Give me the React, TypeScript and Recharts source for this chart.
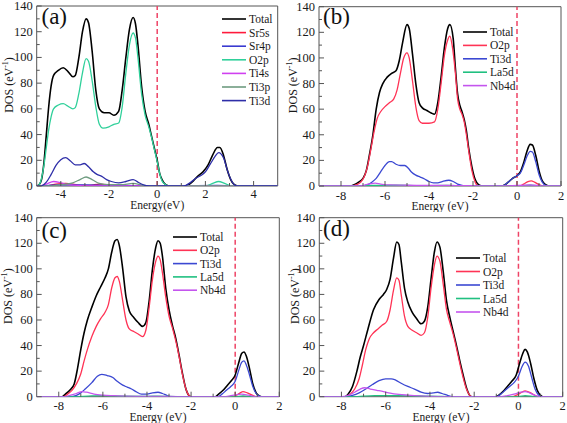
import React from "react";
import {
  LineChart,
  Line,
  XAxis,
  YAxis,
  ReferenceLine,
  ReferenceArea,
  Legend,
} from "recharts";

const FONT = '"Liberation Serif", "DejaVu Serif", "Times New Roman", serif';
const AXIS = "#555";
const TEXT = "#1a1a1a";
const FERMI = "#ee4466";

type Pt = [number, number];

const dosTicks = [0, 10, 20, 30, 40, 50, 60, 70, 80, 90, 100, 110, 120, 130, 140];
const dosLabels = [0, 20, 40, 60, 80, 100, 120, 140];

// (a) undoped
const energyTicksA = [-4, -3, -2, -1, 0, 1, 2, 3, 4];
const energyLabelsA = [-4, -2, 0, 2, 4];

const totalA: Pt[] = [
  [-5, 0], [-4.9, 1], [-4.8, 5], [-4.7, 18], [-4.6, 40], [-4.5, 62], [-4.4, 78], [-4.3, 86],
  [-4.1, 90], [-3.9, 92], [-3.7, 89], [-3.5, 85], [-3.4, 86], [-3.25, 100], [-3.1, 120],
  [-2.95, 130], [-2.85, 127], [-2.7, 105], [-2.55, 75], [-2.4, 60], [-2.2, 57], [-2.0, 57],
  [-1.8, 55], [-1.6, 58], [-1.45, 75], [-1.3, 100], [-1.15, 122], [-1.0, 131], [-0.9, 126],
  [-0.8, 110], [-0.65, 78], [-0.5, 58], [-0.35, 48], [-0.25, 40], [-0.1, 28], [0, 20],
  [0.1, 10], [0.2, 5], [0.35, 1], [0.5, 0], [1.1, 0], [1.3, 1], [1.5, 4], [1.7, 8], [1.9, 11],
  [2.1, 16], [2.3, 24], [2.5, 30], [2.6, 30], [2.75, 24], [2.9, 13], [3.05, 5], [3.2, 1],
  [3.35, 0], [5, 0],
];
const sr5sA: Pt[] = [
  [-5, 0], [-4.6, 0], [-4.2, 1.5], [-3.8, 2], [-3.5, 1.5], [-3.2, 0.5], [-2.8, 0.5],
  [-2.4, 1.5], [-2.1, 1], [-1.8, 0], [5, 0],
];
const sr4pA: Pt[] = [
  [-5, 0], [-4.5, 0.5], [-4, 0.8], [-3, 0.8], [-2, 0.5], [-1, 0.3], [0, 0], [2.5, 0.5], [3.2, 0], [5, 0],
];
const o2pA: Pt[] = [
  [-5, 0], [-4.9, 1], [-4.8, 6], [-4.7, 16], [-4.6, 30], [-4.5, 44], [-4.4, 54], [-4.3, 60],
  [-4.1, 63], [-3.9, 64], [-3.7, 62], [-3.5, 60], [-3.4, 61], [-3.25, 72], [-3.1, 88],
  [-2.95, 99], [-2.85, 97], [-2.7, 82], [-2.55, 62], [-2.4, 48], [-2.25, 45], [-2.0, 46],
  [-1.8, 48], [-1.6, 49], [-1.45, 62], [-1.3, 88], [-1.15, 110], [-1.0, 119], [-0.9, 115],
  [-0.8, 100], [-0.65, 72], [-0.5, 55], [-0.35, 46], [-0.25, 39], [-0.1, 27], [0, 19],
  [0.1, 10], [0.2, 4], [0.35, 1], [0.5, 0], [2.0, 0], [2.3, 2], [2.55, 3.5], [2.8, 2],
  [3.1, 0], [5, 0],
];
const ti4sA: Pt[] = [
  [-5, 0], [-4.9, 0], [-4.6, 1.5], [-4.3, 3.5], [-4.0, 2.5], [-3.7, 1], [-3.3, 0.5], [-3, 0], [5, 0],
];
const ti3pA: Pt[] = [
  [-5, 0], [-4.5, 0], [-4, 1], [-3.5, 2.5], [-3.2, 5], [-2.95, 7], [-2.7, 5], [-2.4, 2],
  [-2.0, 1], [-1.5, 1], [-1.0, 2], [-0.6, 0.5], [-0.3, 0], [5, 0],
];
const ti3dA: Pt[] = [
  [-5, 0], [-4.85, 0], [-4.6, 3], [-4.4, 9], [-4.2, 16], [-4.0, 20.5], [-3.8, 22], [-3.6, 19.5],
  [-3.4, 16.5], [-3.2, 16.5], [-3.03, 17.5], [-2.85, 15], [-2.65, 11], [-2.5, 9], [-2.3, 7.5],
  [-2.1, 5], [-1.9, 3.5], [-1.6, 2.5], [-1.3, 3.5], [-1.0, 5], [-0.8, 3], [-0.6, 1], [-0.3, 0],
  [1.1, 0], [1.4, 3], [1.6, 6], [1.8, 8], [2.0, 11], [2.2, 17], [2.4, 23], [2.55, 26],
  [2.75, 22], [2.95, 10], [3.15, 2], [3.3, 0], [5, 0],
];

// (b)-(d) doped
const energyTicksB = [-8, -7, -6, -5, -4, -3, -2, -1, 0, 1, 2];
const energyLabelsB = [-8, -6, -4, -2, 0, 2];

const totalB: Pt[] = [
  [-9, 0], [-7.6, 0], [-7.4, 1], [-7.2, 3], [-7.0, 6], [-6.85, 12], [-6.7, 25], [-6.55, 40],
  [-6.4, 60], [-6.25, 73], [-6.1, 80], [-5.9, 85], [-5.7, 88], [-5.5, 90], [-5.35, 98],
  [-5.2, 112], [-5.0, 126], [-4.9, 123], [-4.75, 103], [-4.6, 80], [-4.45, 65], [-4.3, 61],
  [-4.1, 59], [-3.9, 57], [-3.75, 56], [-3.6, 65], [-3.45, 85], [-3.3, 108], [-3.15, 123],
  [-3.05, 126], [-2.9, 115], [-2.8, 92], [-2.7, 72], [-2.6, 63], [-2.5, 58], [-2.4, 52],
  [-2.3, 43], [-2.2, 30], [-2.05, 15], [-1.9, 5], [-1.75, 1], [-1.6, 0], [-0.7, 0],
  [-0.55, 1], [-0.4, 3], [-0.2, 6], [0, 8], [0.15, 11], [0.3, 18], [0.45, 27], [0.6, 32.5],
  [0.7, 32], [0.85, 24], [1.0, 12], [1.15, 4], [1.3, 1], [1.45, 0], [2, 0],
];
const o2pB: Pt[] = [
  [-9, 0], [-7.5, 0], [-7.3, 1], [-7.1, 3], [-6.95, 7], [-6.8, 15], [-6.65, 28], [-6.5, 42],
  [-6.35, 53], [-6.2, 58], [-6.0, 62], [-5.8, 65], [-5.6, 68], [-5.45, 75], [-5.3, 88],
  [-5.15, 100], [-5.0, 104], [-4.9, 100], [-4.75, 82], [-4.6, 62], [-4.45, 51], [-4.3, 49],
  [-4.0, 49], [-3.75, 50], [-3.6, 60], [-3.45, 80], [-3.3, 102], [-3.15, 114], [-3.05, 117],
  [-2.95, 110], [-2.8, 88], [-2.7, 68], [-2.6, 60], [-2.5, 56], [-2.4, 50], [-2.3, 40],
  [-2.2, 28], [-2.05, 12], [-1.9, 3], [-1.75, 0], [0.1, 0], [0.3, 1.5], [0.5, 3.5],
  [0.65, 4], [0.8, 3], [1.0, 1], [1.2, 0], [2, 0],
];
const ti3dB: Pt[] = [
  [-9, 0], [-7.0, 0], [-6.8, 1], [-6.6, 3], [-6.4, 6], [-6.2, 11], [-6.0, 16], [-5.8, 19],
  [-5.7, 19], [-5.5, 17], [-5.3, 16], [-5.1, 16], [-4.95, 14], [-4.8, 11], [-4.6, 8.5],
  [-4.4, 7], [-4.2, 5.5], [-4.0, 3.5], [-3.8, 2.5], [-3.6, 2.5], [-3.4, 3.5], [-3.1, 4.5],
  [-2.9, 3.5], [-2.7, 1.5], [-2.5, 0.5], [-2.3, 0], [-0.7, 0], [-0.55, 1], [-0.4, 3],
  [-0.2, 6], [0, 8], [0.15, 10], [0.3, 16], [0.45, 23], [0.6, 27], [0.7, 26.5], [0.85, 19],
  [1.0, 9], [1.15, 3], [1.3, 0.5], [1.45, 0], [2, 0],
];
const la5dB: Pt[] = [
  [-9, 0], [-7.2, 0], [-6.5, 0.5], [-5.5, 0.6], [-4.5, 0.3], [-3.2, 0.4], [-2.4, 0], [0, 0],
  [0.6, 0.6], [1.2, 0], [2, 0],
];
const nb4dB: Pt[] = [
  [-9, 0], [-7.2, 0], [-6.8, 1.2], [-6.45, 2.2], [-6.2, 1.5], [-5.8, 0.8], [-5, 0.6],
  [-4, 0.5], [-3, 0.4], [-2, 0.2], [-1.6, 0], [-0.5, 0], [0.6, 0.8], [1.2, 0], [2, 0],
];

const totalC: Pt[] = [
  [-9, 0], [-7.85, 0], [-7.7, 2], [-7.5, 5], [-7.3, 10], [-7.15, 22], [-7.0, 37], [-6.85, 50],
  [-6.7, 60], [-6.5, 70], [-6.3, 79], [-6.1, 86], [-5.9, 93], [-5.75, 100], [-5.6, 113],
  [-5.45, 122], [-5.35, 123], [-5.25, 118], [-5.1, 100], [-4.95, 78], [-4.8, 67], [-4.6, 62],
  [-4.4, 58], [-4.2, 55], [-4.05, 58], [-3.9, 75], [-3.75, 100], [-3.6, 117], [-3.5, 122],
  [-3.4, 120], [-3.3, 110], [-3.15, 85], [-3.0, 68], [-2.85, 56], [-2.7, 46], [-2.55, 33],
  [-2.4, 19], [-2.25, 7], [-2.1, 1], [-2.0, 0], [-0.9, 0], [-0.75, 2], [-0.55, 5],
  [-0.35, 9], [-0.15, 13], [0, 17], [0.15, 26], [0.3, 34], [0.4, 35], [0.5, 32], [0.65, 22],
  [0.8, 10], [0.95, 3], [1.1, 0.5], [1.2, 0], [2, 0],
];
const o2pC: Pt[] = [
  [-9, 0], [-7.8, 0], [-7.6, 2], [-7.4, 5], [-7.2, 10], [-7.0, 18], [-6.85, 28], [-6.7, 37],
  [-6.5, 47], [-6.3, 55], [-6.1, 61], [-5.9, 66], [-5.75, 72], [-5.6, 85], [-5.45, 93],
  [-5.35, 94], [-5.25, 90], [-5.1, 75], [-4.95, 60], [-4.8, 53], [-4.6, 51], [-4.4, 49],
  [-4.2, 47], [-4.05, 52], [-3.9, 70], [-3.75, 92], [-3.6, 106], [-3.5, 110], [-3.4, 107],
  [-3.3, 97], [-3.15, 78], [-3.0, 63], [-2.85, 54], [-2.7, 44], [-2.55, 32], [-2.4, 18],
  [-2.25, 7], [-2.1, 1], [-2.0, 0], [-0.1, 0], [0.1, 1.5], [0.35, 4], [0.55, 3], [0.8, 1],
  [1.0, 0], [2, 0],
];
const ti3dC: Pt[] = [
  [-9, 0], [-7.5, 0], [-7.2, 1], [-7.0, 3], [-6.8, 6], [-6.5, 11], [-6.25, 16], [-6.05, 17.5],
  [-5.8, 16.5], [-5.55, 15], [-5.35, 12], [-5.1, 9], [-4.9, 7.5], [-4.7, 6], [-4.5, 4],
  [-4.25, 2], [-4.0, 2], [-3.75, 3], [-3.5, 3.5], [-3.3, 2.5], [-3.1, 1], [-2.9, 0],
  [-0.8, 0], [-0.6, 2], [-0.4, 5], [-0.2, 8], [0, 12], [0.15, 20], [0.3, 27], [0.4, 28],
  [0.5, 25], [0.65, 17], [0.8, 8], [0.95, 2.5], [1.1, 0.5], [1.2, 0], [2, 0],
];
const la5dC: Pt[] = [
  [-9, 0], [-7.5, 0], [-6.5, 0.6], [-6, 0.8], [-5.5, 0.6], [-4, 0.3], [-3.5, 0.4], [-2.5, 0],
  [0, 0], [0.35, 0.6], [0.8, 0], [2, 0],
];
const nb4dC: Pt[] = [
  [-9, 0], [-7.8, 0], [-7.5, 1], [-7.2, 2.5], [-6.95, 4], [-6.75, 3.5], [-6.4, 2], [-6.0, 1.2],
  [-5.5, 0.8], [-5, 0.5], [-4, 0.3], [-3, 0.2], [-2, 0], [-0.5, 0], [-0.2, 0.8], [0.3, 2],
  [0.6, 1.2], [1, 0], [2, 0],
];

const totalD: Pt[] = [
  [-9, 0], [-7.85, 0], [-7.7, 2], [-7.5, 8], [-7.3, 20], [-7.15, 31], [-7.0, 40], [-6.8, 53],
  [-6.55, 68], [-6.3, 76], [-6.1, 80], [-5.95, 84], [-5.8, 92], [-5.65, 108], [-5.5, 121],
  [-5.4, 119], [-5.3, 106], [-5.15, 85], [-5.0, 74], [-4.8, 66], [-4.6, 61], [-4.4, 57],
  [-4.25, 59], [-4.1, 70], [-3.95, 92], [-3.8, 113], [-3.68, 121], [-3.55, 117], [-3.4, 98],
  [-3.25, 75], [-3.1, 62], [-2.95, 51], [-2.8, 40], [-2.65, 28], [-2.5, 17], [-2.35, 7],
  [-2.2, 1], [-2.1, 0], [-1.05, 0], [-0.9, 1], [-0.7, 4], [-0.5, 8], [-0.3, 12], [-0.1, 17],
  [0.05, 26], [0.2, 34], [0.3, 37], [0.4, 35], [0.55, 26], [0.7, 14], [0.85, 5], [1.0, 1],
  [1.1, 0], [2, 0],
];
const o2pD: Pt[] = [
  [-9, 0], [-7.8, 0], [-7.6, 2], [-7.4, 6], [-7.2, 14], [-7.05, 25], [-6.9, 37], [-6.75, 45],
  [-6.55, 50], [-6.35, 53], [-6.15, 56], [-5.95, 59], [-5.8, 68], [-5.65, 83], [-5.5, 93],
  [-5.4, 91], [-5.3, 80], [-5.15, 63], [-5.0, 55], [-4.8, 52], [-4.6, 50], [-4.4, 48],
  [-4.25, 50], [-4.1, 62], [-3.95, 85], [-3.8, 103], [-3.68, 110], [-3.55, 106], [-3.4, 88],
  [-3.25, 68], [-3.1, 58], [-2.95, 49], [-2.8, 38], [-2.65, 26], [-2.5, 15], [-2.35, 6],
  [-2.2, 1], [-2.1, 0], [-0.3, 0], [0, 2], [0.3, 4.5], [0.55, 3], [0.8, 0.5], [1.0, 0], [2, 0],
];
const ti3dD: Pt[] = [
  [-9, 0], [-7.8, 0], [-7.5, 1], [-7.2, 3], [-6.9, 6], [-6.6, 9.5], [-6.3, 12.5], [-6.0, 14],
  [-5.75, 14], [-5.55, 13], [-5.3, 10.5], [-5.0, 8], [-4.7, 6], [-4.4, 3.5], [-4.1, 2.5],
  [-3.85, 3], [-3.65, 3.5], [-3.45, 2.5], [-3.2, 1], [-3.0, 0], [-1.0, 0], [-0.8, 2],
  [-0.6, 5], [-0.4, 8], [-0.2, 11], [0, 16], [0.15, 23], [0.3, 27], [0.45, 24], [0.6, 15],
  [0.75, 6], [0.9, 1.5], [1.05, 0], [2, 0],
];
const la5dD: Pt[] = [
  [-9, 0], [-7.5, 0], [-6.5, 0.8], [-5.5, 0.8], [-4, 0.4], [-2.5, 0], [0, 0], [0.3, 0.8],
  [0.8, 0], [2, 0],
];
const nb4dD: Pt[] = [
  [-9, 0], [-8, 0], [-7.7, 1], [-7.4, 3.5], [-7.15, 6], [-6.95, 7], [-6.7, 6], [-6.4, 5],
  [-6.1, 4], [-5.8, 2.8], [-5.4, 1.8], [-5.0, 1.2], [-4.5, 0.6], [-4, 0.3], [-3, 0.1], [-2, 0],
  [-0.8, 0], [-0.5, 0.8], [-0.2, 2], [0.1, 3.5], [0.3, 4], [0.5, 3], [0.75, 1], [1, 0], [2, 0],
];

type Series = { name: string; color: string; pts: Pt[] };

const C = {
  total: "#000000",
  red: "#ff1a3c",
  blue: "#3a3ad0",
  teal: "#2fd09a",
  magenta: "#d040f0",
  grayGreen: "#6f9c80",
  navy: "#2e2ea8",
  o2p: "#ff3355",
  ti3d: "#3b48d2",
  la5d: "#20c080",
  nb4d: "#c455ee",
};

const dopedSeries = (total: Pt[], o2p: Pt[], ti3d: Pt[], la5d: Pt[], nb4d: Pt[]): Series[] => [
  { name: "Total", color: C.total, pts: total },
  { name: "O2p", color: C.o2p, pts: o2p },
  { name: "Ti3d", color: C.ti3d, pts: ti3d },
  { name: "La5d", color: C.la5d, pts: la5d },
  { name: "Nb4d", color: C.nb4d, pts: nb4d },
];

const txt = (size: number) => ({ fontFamily: FONT, fontSize: size, fill: TEXT });

function XTick(props: any) {
  const { x, y, payload, labels, dy } = props;
  const isMajor = labels.includes(payload.value);
  return (
    <g>
      <line x1={x} x2={x} y1={y} y2={y - (isMajor ? 5 : 3)} stroke={AXIS} strokeWidth={1} />
      {isMajor && (
        <text x={x} y={y + dy} textAnchor="middle" dominantBaseline="central" style={txt(12.5)}>
          {String(payload.value)}
        </text>
      )}
    </g>
  );
}

function YTick(props: any) {
  const { x, y, payload } = props;
  const isMajor = dosLabels.includes(payload.value);
  return (
    <g>
      <line x1={x} x2={x + (isMajor ? 5 : 3)} y1={y} y2={y} stroke={AXIS} strokeWidth={1} />
      {isMajor && (
        <text x={x - 4} y={y} textAnchor="end" dominantBaseline="central" style={txt(12.5)}>
          {payload.value}
        </text>
      )}
    </g>
  );
}

function LegendBox({ series, gap }: { series: Series[]; gap: number }) {
  const len = 24;
  return (
    <svg width={90} height={series.length * gap + 8} style={{ display: "block" }}>
      {series.map((s, i) => {
        const y = 8 + i * gap;
        return (
          <g key={s.name}>
            <line x1={2} x2={2 + len} y1={y} y2={y} stroke={s.color} strokeWidth={1.6} />
            <text x={2 + len + 3} y={y} dominantBaseline="central" style={txt(11.5)}>
              {s.name}
            </text>
          </g>
        );
      })}
    </svg>
  );
}

type PanelProps = {
  left: number;
  top: number;
  width: number;
  height: number;
  margin: { top: number; right: number; left: number; bottom: number };
  yWidth: number;
  xHeight: number;
  domain: [number, number];
  ticks: number[];
  labels: number[];
  tickDy: number;
  xTitle: string;
  xTitleDy: number;
  yTitleX: number;
  series: Series[];
  legendX: number;
  legendY: number;
  legendGap: number;
};

function Panel(p: PanelProps) {
  return (
    <div style={{ position: "absolute", left: p.left, top: p.top }}>
      <LineChart width={p.width} height={p.height} margin={p.margin}>
        <XAxis
          dataKey="e"
          type="number"
          domain={p.domain}
          ticks={p.ticks}
          interval={0}
          allowDataOverflow
          axisLine={false}
          tickLine={false}
          tickSize={0}
          tickMargin={0}
          height={p.xHeight}
          tick={(t: any) => <XTick {...t} labels={p.labels} dy={p.tickDy} />}
          label={(l: any) => {
            const vb = l.viewBox;
            return (
              <text x={vb.x + vb.width / 2} y={vb.y + p.xTitleDy} textAnchor="middle"
                dominantBaseline="central" style={txt(11.5)}>
                {p.xTitle}
              </text>
            );
          }}
        />
        <YAxis
          type="number"
          domain={[0, 140]}
          ticks={dosTicks}
          interval={0}
          allowDataOverflow
          axisLine={false}
          tickLine={false}
          tickSize={0}
          tickMargin={0}
          width={p.yWidth}
          tick={(t: any) => <YTick {...t} />}
          label={(l: any) => {
            const vb = l.viewBox;
            const cx = vb.x + p.yTitleX;
            const cy = vb.y + vb.height / 2 - 11;
            return (
              <text x={cx} y={cy} transform={`rotate(-90 ${cx} ${cy})`} textAnchor="middle"
                dominantBaseline="central" style={txt(12)}>
                DOS (eV
                <tspan dy={-4} style={{ fontSize: 8 }}>-1</tspan>
                <tspan dy={4}>)</tspan>
              </text>
            );
          }}
        />
        <ReferenceArea x1={p.domain[0]} x2={p.domain[1]} y1={0} y2={140} fill="none"
          stroke={AXIS} strokeWidth={1} ifOverflow="visible" />
        <ReferenceLine x={0} stroke={FERMI} strokeWidth={1.5} strokeDasharray="5 3" />
        {p.series.map((s) => (
          <Line
            key={s.name}
            name={s.name}
            data={s.pts.map(([e, v]) => ({ e, dos: v }))}
            dataKey="dos"
            type="monotone"
            stroke={s.color}
            strokeWidth={s.name === "Total" ? 1.6 : 1.3}
            dot={false}
            activeDot={false}
            isAnimationActive={false}
          />
        ))}
        <Legend
          layout="vertical"
          align="center"
          verticalAlign="middle"
          wrapperStyle={{ left: p.legendX - 2, top: p.legendY - 8, width: 90 }}
          content={() => <LegendBox series={p.series} gap={p.legendGap} />}
        />
      </LineChart>
    </div>
  );
}

const seriesA: Series[] = [
  { name: "Total", color: C.total, pts: totalA },
  { name: "Sr5s", color: C.red, pts: sr5sA },
  { name: "Sr4p", color: C.blue, pts: sr4pA },
  { name: "O2p", color: C.teal, pts: o2pA },
  { name: "Ti4s", color: C.magenta, pts: ti4sA },
  { name: "Ti3p", color: C.grayGreen, pts: ti3pA },
  { name: "Ti3d", color: C.navy, pts: ti3dA },
];

const letterStyle = { fontFamily: FONT, fontSize: 23, fill: "#111" };

export default function App() {
  return (
    <div style={{ position: "absolute", left: 0, top: 0, width: 567, height: 423, background: "#fff", fontFamily: FONT }}>
      <Panel
        left={0} top={0} width={290} height={212}
        margin={{ top: 6, right: 12.3, left: 0, bottom: 0 }}
        yWidth={36.7} xHeight={26}
        domain={[-5, 5]} ticks={energyTicksA} labels={energyLabelsA} tickDy={8}
        xTitle="Energy(eV)" xTitleDy={18.5} yTitleX={8.7}
        series={seriesA}
        legendX={221.7} legendY={19} legendGap={13.6}
      />
      <Panel
        left={280} top={0} width={287} height={212}
        margin={{ top: 6.7, right: 6, left: 0, bottom: 0 }}
        yWidth={39} xHeight={26}
        domain={[-9, 2]} ticks={energyTicksB} labels={energyLabelsB} tickDy={9.5}
        xTitle="Energy (eV)" xTitleDy={19.5} yTitleX={13.5}
        series={dopedSeries(totalB, o2pB, ti3dB, la5dB, nb4dB)}
        legendX={182.7} legendY={32.3} legendGap={13.4}
      />
      <Panel
        left={0} top={205} width={290} height={218}
        margin={{ top: 12.7, right: 10.7, left: 0, bottom: 0 }}
        yWidth={36.7} xHeight={26.3}
        domain={[-9, 2]} ticks={energyTicksB} labels={energyLabelsB} tickDy={9}
        xTitle="Energy (eV)" xTitleDy={20} yTitleX={8.5}
        series={dopedSeries(totalC, o2pC, ti3dC, la5dC, nb4dC)}
        legendX={172.7} legendY={31.7} legendGap={13.3}
      />
      <Panel
        left={280} top={205} width={287} height={218}
        margin={{ top: 12.7, right: 4.3, left: 0, bottom: 0 }}
        yWidth={39.3} xHeight={26.3}
        domain={[-9, 2]} ticks={energyTicksB} labels={energyLabelsB} tickDy={9}
        xTitle="Energy (eV)" xTitleDy={20} yTitleX={15}
        series={dopedSeries(totalD, o2pD, ti3dD, la5dD, nb4dD)}
        legendX={176} legendY={53.3} legendGap={13.5}
      />
      <svg width={567} height={423} style={{ position: "absolute", left: 0, top: 0, pointerEvents: "none" }}>
        <text x={41.5} y={24} style={letterStyle}>(a)</text>
        <text x={323} y={24} style={letterStyle}>(b)</text>
        <text x={41.5} y={237.5} style={letterStyle}>(c)</text>
        <text x={323} y={236} style={letterStyle}>(d)</text>
      </svg>
    </div>
  );
}
